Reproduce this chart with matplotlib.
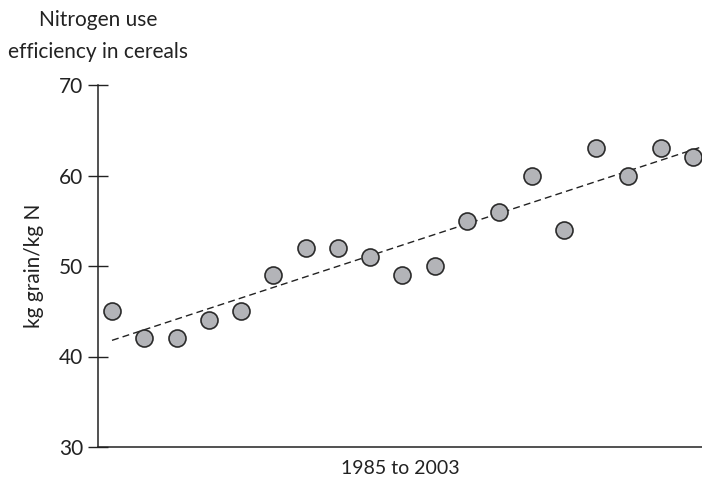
import numpy as np
import matplotlib
matplotlib.use('Agg')
import matplotlib.pyplot as plt

## nitrogen use efficiency, 1985..2003 [kg grain / kg N]
years = list(range(1985, 2004))
nue = [45, 42, 42, 44, 45, 49, 52, 52, 51, 49, 50, 55, 56, 60, 54, 63, 60, 63, 62]
yticks = [30, 40, 50, 60, 70]

plt.rcParams['font.family'] = ['Lato', 'DejaVu Sans']

fig = plt.figure(figsize=(7.02, 4.78), dpi=100)
ax = fig.add_axes([98/702, 1-447/478, 604/702, 362/478])

x = np.arange(len(years))
## linear trend
a, b = np.polyfit(x, nue, 1)
xt = np.array([0, len(years) - 0.75])
ax.plot(xt, a*xt + b, ls=(0, (5, 3)), lw=1.0, c='#222222', zorder=2)

ax.scatter(x, nue, s=150, c='#b3b4b8', edgecolors='#2b2b2b', linewidths=1.2, zorder=3)

ax.set_xlim(-0.434, 18.28)
ax.set_ylim(30, 70)
ax.set_yticks(yticks)
ax.set_yticklabels([str(v) for v in yticks], fontsize=15, color='#222222')
ax.set_xticks([])
ax.tick_params(axis='y', direction='inout', length=15, width=1.0, pad=3, color='#222222')
for s in ['top', 'right']:
    ax.spines[s].set_visible(False)
for s in ['left', 'bottom']:
    ax.spines[s].set_linewidth(1.1)
    ax.spines[s].set_color('#222222')

ax.set_ylabel('kg grain/kg N', fontsize=15, color='#222222', labelpad=11)
ax.set_xlabel('1985 to 2003', fontsize=14, color='#222222', labelpad=9)
fig.text(98/702, 1-36/478, 'Nitrogen use\nefficiency in cereals', ha='center', va='center',
         fontsize=15, color='#222222', linespacing=1.75)

plt.savefig('out.png', dpi=100)
